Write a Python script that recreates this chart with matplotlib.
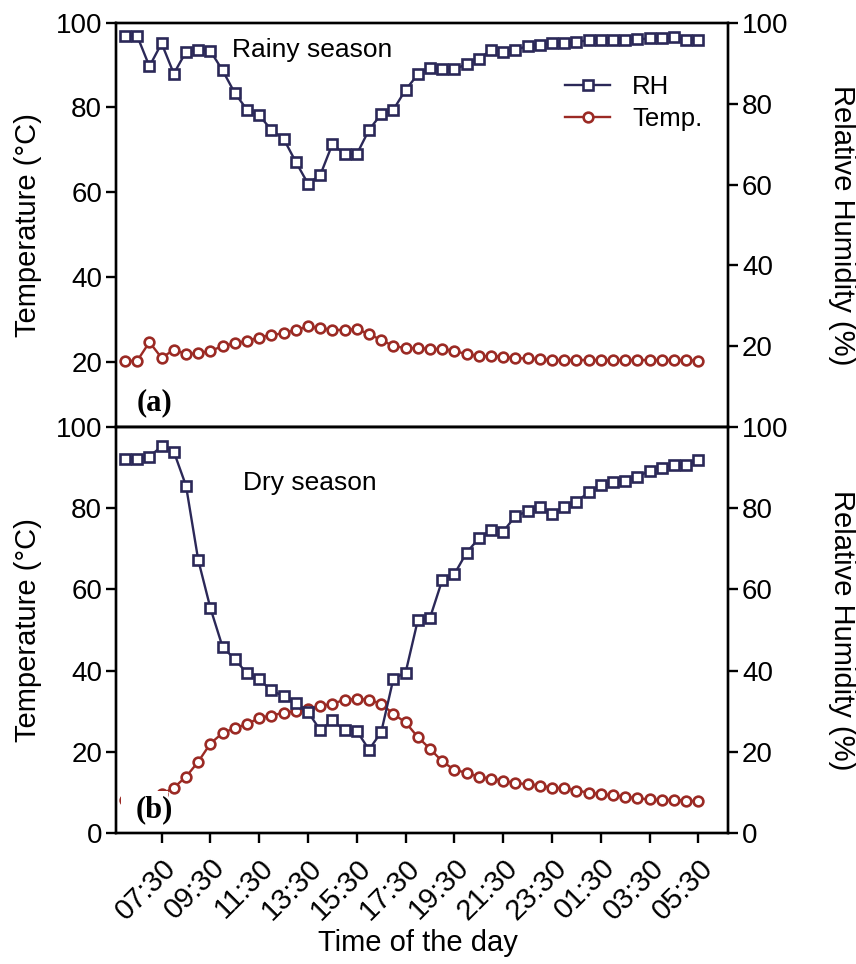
import numpy as np
import matplotlib
matplotlib.use('Agg')
import matplotlib.pyplot as plt
from matplotlib.patches import Rectangle

plt.rcParams['font.family'] = ['Liberation Sans', 'DejaVu Sans']

# half-hourly readings, 06:00 -> 05:30 next day
times = ['06:00', '06:30', '07:00', '07:30', '08:00', '08:30', '09:00', '09:30',
         '10:00', '10:30', '11:00', '11:30', '12:00', '12:30', '13:00', '13:30',
         '14:00', '14:30', '15:00', '15:30', '16:00', '16:30', '17:00', '17:30',
         '18:00', '18:30', '19:00', '19:30', '20:00', '20:30', '21:00', '21:30',
         '22:00', '22:30', '23:00', '23:30', '00:00', '00:30', '01:00', '01:30',
         '02:00', '02:30', '03:00', '03:30', '04:00', '04:30', '05:00', '05:30']

# (a) rainy season
rh_rainy = [96.7, 96.7, 89.2, 94.9, 87.4, 92.8, 93.3, 93.0, 88.2, 82.6, 78.5, 77.1,
            73.5, 71.3, 65.6, 60.2, 62.3, 70.0, 67.5, 67.5, 73.5, 77.4, 78.5, 83.4,
            87.2, 88.7, 88.5, 88.5, 89.7, 90.9, 93.3, 92.8, 93.3, 94.2, 94.5, 94.9,
            94.9, 95.3, 95.6, 95.7, 95.7, 95.7, 95.9, 96.1, 96.1, 96.4, 95.7, 95.7]
temp_rainy = [20.2, 20.2, 24.6, 20.9, 22.8, 21.8, 22.0, 22.5, 23.7, 24.3, 24.9, 25.7,
              26.3, 26.7, 27.5, 28.3, 27.9, 27.5, 27.5, 27.7, 26.5, 25.1, 23.7, 23.2,
              23.2, 23.0, 23.0, 22.5, 21.8, 21.3, 21.3, 21.2, 20.8, 20.8, 20.6, 20.4,
              20.4, 20.4, 20.4, 20.4, 20.4, 20.4, 20.4, 20.4, 20.4, 20.4, 20.4, 20.2]

# (b) dry season
rh_dry = [92.2, 92.2, 92.8, 95.3, 94.0, 85.6, 67.3, 55.4, 45.8, 42.8, 39.3, 37.8,
          35.1, 33.7, 32.0, 29.8, 25.3, 27.7, 25.3, 25.1, 20.5, 24.8, 38.0, 39.5,
          52.4, 53.0, 62.3, 63.8, 69.1, 72.6, 74.7, 74.3, 78.1, 79.3, 80.3, 78.6,
          80.4, 81.6, 84.0, 85.7, 86.5, 86.8, 87.8, 89.3, 90.0, 90.7, 90.7, 92.0]
temp_dry = [8.1, 8.0, 8.5, 9.5, 11.1, 13.8, 17.5, 22.0, 24.6, 25.8, 26.8, 28.3,
            28.9, 29.6, 30.0, 30.4, 31.2, 31.8, 32.8, 33.0, 32.8, 31.8, 29.3, 27.2,
            23.6, 20.7, 17.6, 15.5, 14.8, 13.8, 13.3, 12.8, 12.2, 12.0, 11.6, 11.1,
            11.0, 10.4, 9.9, 9.5, 9.2, 8.9, 8.5, 8.2, 8.1, 8.1, 7.9, 7.8]

rh_color = '#2b2858'
temp_color = '#9b2a24'
fs_tick = 20
fs_label = 21

x = np.arange(len(times))

fig = plt.figure(figsize=(8.56, 9.64), dpi=100)
ax_top = fig.add_axes([0.1355, 0.5567, 0.715, 0.4198])
ax_bot = fig.add_axes([0.1355, 0.1362, 0.715, 0.4205])


def draw_panel(ax, temp, rh, ylim_left, season, season_xy, show_xlabels):
    ax2 = ax.twinx()
    lt, = ax.plot(x, temp, color=temp_color, lw=1.7, marker='o', ms=7,
                  mfc='white', mec=temp_color, mew=1.9, label='Temp.')
    lr, = ax2.plot(x, rh, color=rh_color, lw=1.7, marker='s', ms=7,
                   mfc='white', mec=rh_color, mew=1.9, label='RH')

    ax.set_xlim(-0.74, 49.43)
    ax.set_ylim(*ylim_left)
    ax2.set_ylim(0, 100)

    for a in (ax, ax2):
        for sp in a.spines.values():
            sp.set_linewidth(1.7)
        a.tick_params(direction='out', length=7, width=1.7, labelsize=fs_tick, pad=3)
    ax.tick_params(axis='x', pad=8, labelsize=21)

    ax.set_xticks(x[3::4])
    if show_xlabels:
        ax.set_xticklabels(times[3::4], rotation=45, ha='right', va='top',
                           rotation_mode='anchor')
    else:
        ax.set_xticklabels([])

    ax.set_ylabel('Temperature (°C)', fontsize=fs_label, va='center')
    ax.yaxis.set_label_coords(-0.144, 0.5)
    ax2.set_ylabel('Relative Humidity (%)', fontsize=fs_label, rotation=270, va='center')
    ax2.yaxis.set_label_coords(1.186, 0.5)

    ax2.text(season_xy[0], season_xy[1], season, transform=ax.transAxes,
             fontsize=19, ha='left', va='center')
    return ax2, lr, lt


ax2_top, lr, lt = draw_panel(ax_top, temp_rainy, rh_rainy, (4.5, 100), 'Rainy season',
                             (0.19, 0.933), False)
ax_top.set_yticks([20, 40, 60, 80, 100])
ax2_top.set_yticks([20, 40, 60, 80, 100])

ax2_bot, _, _ = draw_panel(ax_bot, temp_dry, rh_dry, (0, 100), 'Dry season',
                           (0.208, 0.8626), True)
ax_bot.set_yticks([0, 20, 40, 60, 80, 100])
ax2_bot.set_yticks([0, 20, 40, 60, 80, 100])
ax_bot.set_xlabel('Time of the day', fontsize=fs_label, va='center')
ax_bot.xaxis.set_label_coords(0.4935, -0.272)

# panel tags
ax2_top.text(0.034, 0.06, '(a)', transform=ax_top.transAxes, fontsize=22,
             fontweight='bold', family='Liberation Serif', ha='left', va='center')
ax2_bot.add_patch(Rectangle((0.009, 0.003), 0.076, 0.1, transform=ax_bot.transAxes,
                            facecolor='white', edgecolor='none', zorder=5))
ax2_bot.text(0.032, 0.056, '(b)', transform=ax_bot.transAxes, fontsize=22,
             fontweight='bold', family='Liberation Serif', ha='left', va='center',
             zorder=6)

ax2_top.legend([lr, lt], ['RH', 'Temp.'], loc='upper left',
               bbox_to_anchor=(0.734, 0.8706), frameon=False, fontsize=18.5,
               handlelength=1.75, handletextpad=0.85, borderpad=0, borderaxespad=0,
               labelspacing=0.3)

fig.savefig('out.png', dpi=100)
